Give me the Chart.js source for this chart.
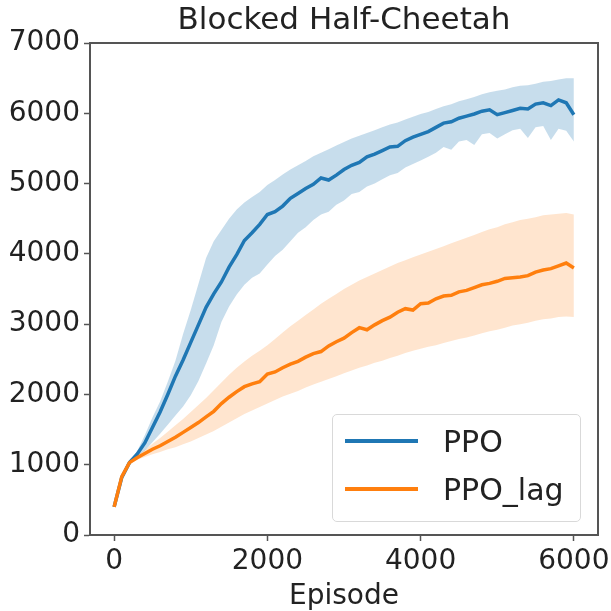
<!DOCTYPE html>
<html>
<head>
<meta charset="utf-8">
<title>Blocked Half-Cheetah</title>
<script src="https://cdn.jsdelivr.net/npm/chart.js@4.4.1/dist/chart.umd.min.js"></script>
<style>
  html, body { margin: 0; padding: 0; background: #fff; overflow: hidden; }
  #wrap { position: relative; width: 611px; height: 611px; }
  #legend {
    position: absolute; left: 332px; top: 414px; width: 247px; height: 106px;
    border: 1px solid #d9d9d9; border-radius: 5px; background: rgba(255,255,255,0.85);
    font-family: "DejaVu Sans", sans-serif; font-size: 30px; color: #222;
  }
  #legend .row { position: absolute; left: 0; height: 40px; display: flex; align-items: center; }
  #legend .swatch { width: 73px; height: 4px; margin-left: 12px; margin-right: 25px; }
</style>
</head>
<body>
<div id="wrap">
  <canvas id="chart" width="611" height="611"></canvas>
  <div id="legend"></div>
</div>
<script>
// Blocked Half-Cheetah — mean return with spread band, PPO vs PPO_lag
const chartTitle = 'Blocked Half-Cheetah';

const episodes = [
  0, 100, 200, 300, 400, 500, 600, 700, 800, 900,
  1000, 1100, 1200, 1300, 1400, 1500, 1600, 1700, 1800, 1900,
  2000, 2100, 2200, 2300, 2400, 2500, 2600, 2700, 2800, 2900,
  3000, 3100, 3200, 3300, 3400, 3500, 3600, 3700, 3800, 3900,
  4000, 4100, 4200, 4300, 4400, 4500, 4600, 4700, 4800, 4900,
  5000, 5100, 5200, 5300, 5400, 5500, 5600, 5700, 5800, 5900, 6000
];

const ppoMean = [
  400, 820, 1030, 1150, 1310, 1530, 1750, 2000, 2260, 2490,
  2740, 2990, 3240, 3430, 3600, 3810, 3990, 4190, 4300, 4420,
  4560, 4600, 4680, 4790, 4860, 4930, 4990, 5080, 5050, 5120,
  5200, 5260, 5300, 5380, 5420, 5470, 5520, 5530, 5610, 5660,
  5700, 5740, 5800, 5860, 5880, 5930, 5960, 5990, 6030, 6050,
  5980, 6010, 6040, 6070, 6060, 6130, 6150, 6110, 6190, 6150, 5980
];
const ppoUpper = [
  410, 830, 1050, 1190, 1420, 1670, 1900, 2180, 2480, 2860,
  3200, 3570, 3940, 4180, 4340, 4500, 4630, 4730, 4810, 4880,
  4980, 5050, 5130, 5200, 5260, 5320, 5390, 5440, 5490, 5540,
  5590, 5640, 5680, 5720, 5760, 5800, 5840, 5870, 5910, 5950,
  5990, 6020, 6060, 6100, 6130, 6170, 6200, 6230, 6270, 6300,
  6320, 6340, 6370, 6390, 6400, 6420, 6450, 6460, 6480, 6500, 6500
];
const ppoLower = [
  390, 810, 1010, 1120, 1200, 1320, 1440, 1570, 1700, 1830,
  1990, 2190, 2440, 2700, 3030, 3250, 3420, 3560, 3660, 3720,
  3850, 3970, 4060, 4180, 4300, 4380, 4480, 4560, 4600, 4700,
  4760, 4850, 4880, 4960, 5000, 5060, 5120, 5150, 5230, 5280,
  5330, 5380, 5440, 5520, 5480, 5600, 5620, 5550, 5700, 5720,
  5640, 5700, 5760, 5780, 5650, 5800, 5820, 5620, 5780, 5750, 5600
];

const lagMean = [
  400, 830, 1030, 1100, 1160, 1220, 1270, 1330, 1390, 1460,
  1530, 1600, 1680, 1760, 1870, 1960, 2040, 2110, 2150, 2180,
  2290, 2320, 2380, 2430, 2470, 2530, 2580, 2610, 2690, 2750,
  2800, 2880, 2950, 2920, 2990, 3050, 3100, 3170, 3220, 3200,
  3290, 3300, 3360, 3400, 3410, 3460, 3480, 3520, 3560, 3580,
  3610, 3650, 3660, 3670, 3690, 3740, 3770, 3790, 3830, 3870, 3800
];
const lagUpper = [
  410, 840, 1050, 1130, 1210, 1300, 1380, 1470, 1560, 1650,
  1750, 1850, 1950, 2060, 2170, 2280, 2380, 2470, 2550, 2620,
  2700, 2790, 2880, 2970, 3050, 3130, 3210, 3290, 3360, 3430,
  3500, 3560, 3620, 3670, 3720, 3770, 3820, 3870, 3910, 3950,
  3990, 4030, 4070, 4110, 4150, 4190, 4230, 4270, 4310, 4350,
  4380, 4420, 4450, 4480, 4500, 4520, 4550, 4560, 4570, 4580, 4560
];
const lagLower = [
  390, 820, 1010, 1070, 1110, 1150, 1180, 1220, 1250, 1290,
  1330, 1380, 1430, 1480, 1540, 1600, 1660, 1720, 1770, 1820,
  1870, 1920, 1970, 2010, 2050, 2100, 2140, 2180, 2220, 2260,
  2300, 2340, 2380, 2410, 2450, 2480, 2520, 2550, 2590, 2620,
  2650, 2680, 2700, 2730, 2760, 2790, 2810, 2840, 2870, 2900,
  2920, 2950, 2980, 3000, 3020, 3050, 3070, 3080, 3100, 3110, 3100
];

const xTicks = [0, 2000, 4000, 6000];
const yTicks = [0, 1000, 2000, 3000, 4000, 5000, 6000, 7000];

const blue = '#1f77b4';
const orange = '#ff7f0e';
const axisGray = '#555555';
const textColor = '#222222';
const font = 'DejaVu Sans';

const pts = (ys) => episodes.map((x, i) => ({ x: x, y: ys[i] }));

function band(label, ys, color, fillTo, order) {
  return {
    label: label, data: pts(ys), borderWidth: 0, pointRadius: 0,
    backgroundColor: color, fill: fillTo, order: order, band: true,
  };
}
function line(label, ys, color, order) {
  return {
    label: label, data: pts(ys), borderColor: color, backgroundColor: color,
    borderWidth: 3.5, pointRadius: 0, fill: false, tension: 0, order: order,
  };
}

// spines on all four sides + title centred over the axes, like matplotlib
const frame = {
  id: 'frame',
  afterDraw(chart) {
    const { ctx, chartArea: a } = chart;
    ctx.save();
    ctx.strokeStyle = axisGray;
    ctx.lineWidth = 2;
    ctx.strokeRect(a.left, a.top, a.right - a.left, a.bottom - a.top);
    ctx.fillStyle = textColor;
    ctx.font = `31px "${font}"`;
    ctx.textAlign = 'center';
    ctx.textBaseline = 'middle';
    ctx.fillText(chartTitle, (a.left + a.right) / 2, 21);
    ctx.restore();
  },
};

const chart = new Chart(document.getElementById('chart'), {
  type: 'line',
  data: {
    datasets: [
      band('PPO upper', ppoUpper, 'rgba(31,119,180,0.25)', 1, 4),
      band('PPO lower', ppoLower, 'rgba(31,119,180,0.25)', false, 4),
      line('PPO', ppoMean, blue, 3),
      band('PPO_lag upper', lagUpper, 'rgba(255,127,14,0.2)', 4, 2),
      band('PPO_lag lower', lagLower, 'rgba(255,127,14,0.2)', false, 2),
      line('PPO_lag', lagMean, orange, 1),
    ],
  },
  options: {
    responsive: false,
    animation: false,
    layout: { padding: { left: 0, right: 13, top: 43, bottom: 0 } },
    plugins: {
      legend: { display: false },
      tooltip: { enabled: false },
      title: { display: false },
    },
    scales: {
      x: {
        type: 'linear',
        min: -315,
        max: 6315,
        afterBuildTicks: (s) => { s.ticks = xTicks.map((v) => ({ value: v })); },
        afterFit: (s) => { s.height = 76; s.paddingLeft = 0; s.paddingRight = 0; },
        grid: { drawOnChartArea: false, drawTicks: true, tickLength: 6, color: axisGray, tickWidth: 1.5 },
        border: { color: axisGray, width: 2 },
        ticks: {
          color: textColor, padding: 4, maxRotation: 0,
          font: { family: font, size: 28 },
          callback: (v) => String(v),
        },
        title: {
          display: true, text: 'Episode', color: textColor,
          font: { family: font, size: 28, lineHeight: 1 }, padding: { top: 0, bottom: 0 },
        },
      },
      y: {
        type: 'linear',
        min: 0,
        max: 7000,
        afterBuildTicks: (s) => { s.ticks = yTicks.map((v) => ({ value: v })); },
        afterFit: (s) => { s.width = 90; s.paddingTop = 0; s.paddingBottom = 0; },
        grid: { drawOnChartArea: false, drawTicks: true, tickLength: 6, color: axisGray, tickWidth: 1.5 },
        border: { color: axisGray, width: 2 },
        ticks: {
          color: textColor, padding: 4,
          font: { family: font, size: 28 },
          callback: (v) => String(v),
        },
      },
    },
  },
  plugins: [frame],
});

// legend inside the axes, lower right
const legendEl = document.getElementById('legend');
legendEl.innerHTML = chart.data.datasets
  .filter((d) => !d.band)
  .map((d, i) => `
    <div class="row" style="top:${6 + i * 48}px">
      <span class="swatch" style="background:${d.borderColor}"></span>
      <span>${d.label}</span>
    </div>`)
  .join('');
</script>
</body>
</html>
